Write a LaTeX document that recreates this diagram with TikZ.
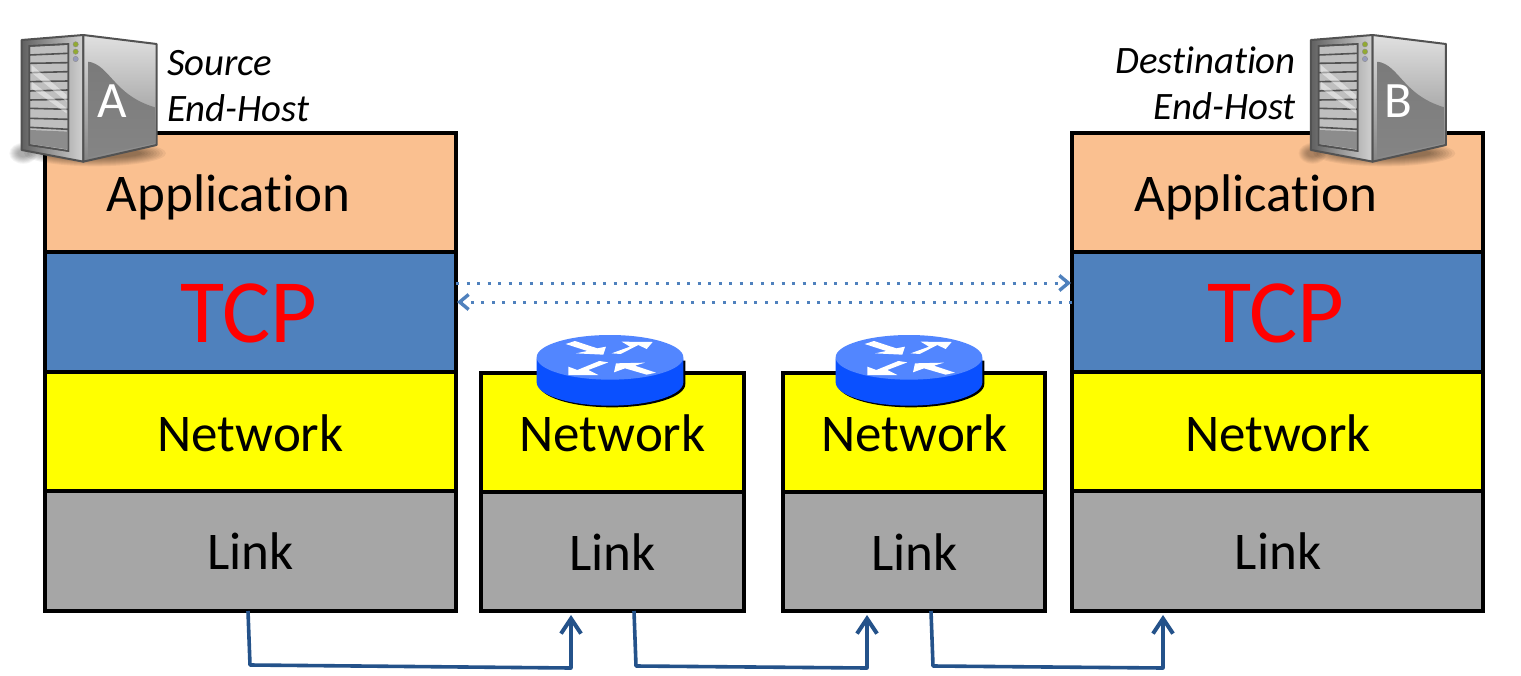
\documentclass[tikz,border=0pt]{standalone}
\usepackage{fontspec}
\setmainfont[Ligatures=NoCommon]{Carlito}
\usetikzlibrary{arrows.meta}
\definecolor{appc}{HTML}{FAC090}
\definecolor{tcpc}{HTML}{4F81BD}
\definecolor{netc}{HTML}{FFFF00}
\definecolor{linkc}{HTML}{A6A6A6}
\definecolor{wirec}{HTML}{24528A}
\definecolor{dotc}{HTML}{4F81BD}
\definecolor{rtop}{HTML}{5286FF}
\definecolor{rside}{HTML}{0A50FF}
\tikzset{
  x=1pt,y=-1pt,
  layerbox/.style={draw=black,line width=3.5pt,inner sep=0pt,outer sep=0pt,miter limit=10},
  lbl/.style={anchor=base,inner sep=0pt,font=\fontsize{53}{60}\selectfont,text=black},
  tcplbl/.style={anchor=base,inner sep=0pt,font=\fontsize{90.5}{96}\selectfont,text=red},
  hostlbl/.style={inner sep=0pt,font=\fontsize{38.8}{44}\selectfont\itshape,text=black},
  wire/.style={draw=wirec,line width=3.6pt,line join=round,-{Straight Barb[length=15pt,width=20pt,line width=4pt]}},
  dotwire/.style={draw=dotc,line width=3pt,dash pattern=on 3pt off 7.5pt,-{Straight Barb[length=9pt,width=15pt,line width=3.4pt]}},
}
% name, x1, y1, x2, y2, colour
\newcommand{\layerbox}[6]{%
  \node[layerbox,fill=#6,minimum width=#4pt-#2pt,minimum height=#5pt-#3pt] (#1) at ({(#2+#4)/2},{(#3+#5)/2}) {};}
% name, dx, letter, letter x
\newcommand{\serverpic}[4]{%
\begin{scope}[shift={(#2,20)},x=0.3333pt,y=-0.3333pt]
  \foreach \k in {1,...,9}{
    \fill[black,opacity=0.055] (285,400) ellipse ({222-\k*9} and {42-\k*3});
    \fill[black,opacity=0.04] (70,400) ellipse ({45-\k*3} and {34-\k*2.5});
  }
  \path[left color=black!62,right color=black!18,draw=black!68,line width=2pt,line join=round]
    (65,60) -- (250,45) -- (250,425) -- (65,390) -- cycle;
  \path[top color=black!12,bottom color=black!48,draw=black!68,line width=2pt,line join=round]
    (250,45) -- (470,72) -- (470,375) -- (250,425) -- cycle;
  \path[top color=black!52,bottom color=black!48]
    (265,125) .. controls (330,135) and (340,225) .. (465,262) -- (465,370) -- (265,412) -- cycle;
  \path[fill=black!25,draw=black!68,line width=1.6pt] (88,78) -- (205,72) -- (205,393) -- (88,375) -- cycle;
  \foreach \a/\b in {105/100,130/128,158/155,185/183,213/210,240/238,265/268,295/298,322/328}{
    \draw[black!68,line width=1.6pt] (88,\a) -- (205,\b);
  }
  \fill[white,opacity=0.45] (95,135) -- (200,225) -- (200,245) -- (95,158) -- cycle;
  \fill[white,opacity=0.45] (95,185) -- (200,265) -- (200,280) -- (95,205) -- cycle;
  \fill[black!45] (90,330) -- (203,335) -- (203,388) -- (90,372) -- cycle;
  \draw[black!68,line width=1.6pt] (88,78) -- (205,72) -- (205,393) -- (88,375) -- cycle;
  \filldraw[fill=olive!70!green!80!white,draw=black!45] (227,73) circle (8);
  \filldraw[fill=olive!70!green!80!white,draw=black!45] (227,95) circle (8);
  \filldraw[fill=cyan!30!blue!40!gray!70!white,draw=black!45] (227,117) circle (8);
  \node[inner sep=0pt,anchor=base,text=white,font=\fontsize{51}{60}\selectfont] (#1) at (#4,294) {#3};
\end{scope}}
% dx (relative to the first router)
\newcommand{\routerpic}[1]{%
\begin{scope}[shift={(500+#1,320)},x=0.3333pt,y=-0.3333pt]
  \fill[black] (116,122) -- (116,192) arc[start angle=180,end angle=0,x radius=220,y radius=70] -- (556,122) -- cycle;
  \fill[rside] (110,115) -- (110,187) arc[start angle=180,end angle=0,x radius=220,y radius=70] -- (550,115) -- cycle;
  \fill[rtop] (330,112) ellipse (220 and 67);
  \fill[white] (197,72) -- (225,63) -- (292,85) -- (318,80) -- (310,104) -- (228,100) -- (262,93) -- cycle;
  \fill[white] (335,100) -- (390,80) -- (365,65) -- (458,66) -- (440,87) -- (415,75) -- (362,102) -- cycle;
  \fill[white] (325,127) -- (265,150) -- (295,165) -- (205,165) -- (205,140) -- (232,150) -- (298,123) -- cycle;
  \fill[white] (342,157) -- (348,130) -- (435,128) -- (405,137) -- (468,158) -- (440,164) -- (375,145) -- cycle;
\end{scope}}
\begin{document}
\begin{tikzpicture}
\useasboundingbox (0,0) rectangle (1521,675);
\fill[white] (0,0) rectangle (1521,675);

\layerbox{appA}{45}{133}{456}{252}{appc}
\layerbox{tcpA}{45}{252}{456}{372}{tcpc}
\layerbox{netA}{45}{372}{456}{491}{netc}
\layerbox{linkA}{45}{491}{456}{611}{linkc}

\layerbox{netR}{481}{373}{744}{492}{netc}
\layerbox{linkR}{481}{492}{744}{611}{linkc}
\layerbox{netS}{783}{373}{1045}{492}{netc}
\layerbox{linkS}{783}{492}{1045}{611}{linkc}

\layerbox{appB}{1072}{133}{1483}{252}{appc}
\layerbox{tcpB}{1072}{252}{1483}{372}{tcpc}
\layerbox{netB}{1072}{372}{1483}{491}{netc}
\layerbox{linkB}{1072}{491}{1483}{611}{linkc}

\routerpic{0}
\routerpic{299}

\serverpic{letterA}{0}{A}{338}
\serverpic{letterB}{1289.3}{B}{326}

\node[hostlbl,anchor=base west] (srcA) at (167,75) {Source};
\node[hostlbl,anchor=base west] (srcB) at (167,121) {End-Host};
\node[hostlbl,anchor=base east] (dstA) at (1296,73) {Destination};
\node[hostlbl,anchor=base east] (dstB) at (1296,119) {End-Host};

\node[lbl] (tAppA) at (228.5,211) {Application};
\node[tcplbl] (tTcpA) at (249,342) {TCP};
\node[lbl] (tNetA) at (250.5,451) {Network};
\node[lbl] (tLinkA) at (250.5,569) {Link};
\node[lbl] (tNetR) at (612.5,451) {Network};
\node[lbl] (tLinkR) at (612.5,570) {Link};
\node[lbl] (tNetS) at (914.5,451) {Network};
\node[lbl] (tLinkS) at (914.5,570) {Link};
\node[lbl] (tAppB) at (1256,211) {Application};
\node[tcplbl] (tTcpB) at (1276,342) {TCP};
\node[lbl] (tNetB) at (1278,451) {Network};
\node[lbl] (tLinkB) at (1278,569) {Link};

\coordinate (dA1) at (456,283);
\coordinate (dB1) at (1071,283);
\coordinate (dB2) at (1072,302);
\coordinate (dA2) at (457,302);
\draw[dotwire] (dA1) -- (dB1);
\draw[dotwire] (dB2) -- (dA2);

\coordinate (w1a) at (248,611);
\coordinate (w1b) at (250,665);
\coordinate (w1c) at (571,668);
\coordinate (w1d) at (571,615);
\coordinate (w2a) at (634,611);
\coordinate (w2b) at (636,666);
\coordinate (w2c) at (867,668);
\coordinate (w2d) at (867,615);
\coordinate (w3a) at (931,611);
\coordinate (w3b) at (933,666);
\coordinate (w3c) at (1163,668);
\coordinate (w3d) at (1163,615);
\draw[wire] (w1a) -- (w1b) -- (w1c) -- (w1d);
\draw[wire] (w2a) -- (w2b) -- (w2c) -- (w2d);
\draw[wire] (w3a) -- (w3b) -- (w3c) -- (w3d);
\end{tikzpicture}
\end{document}
